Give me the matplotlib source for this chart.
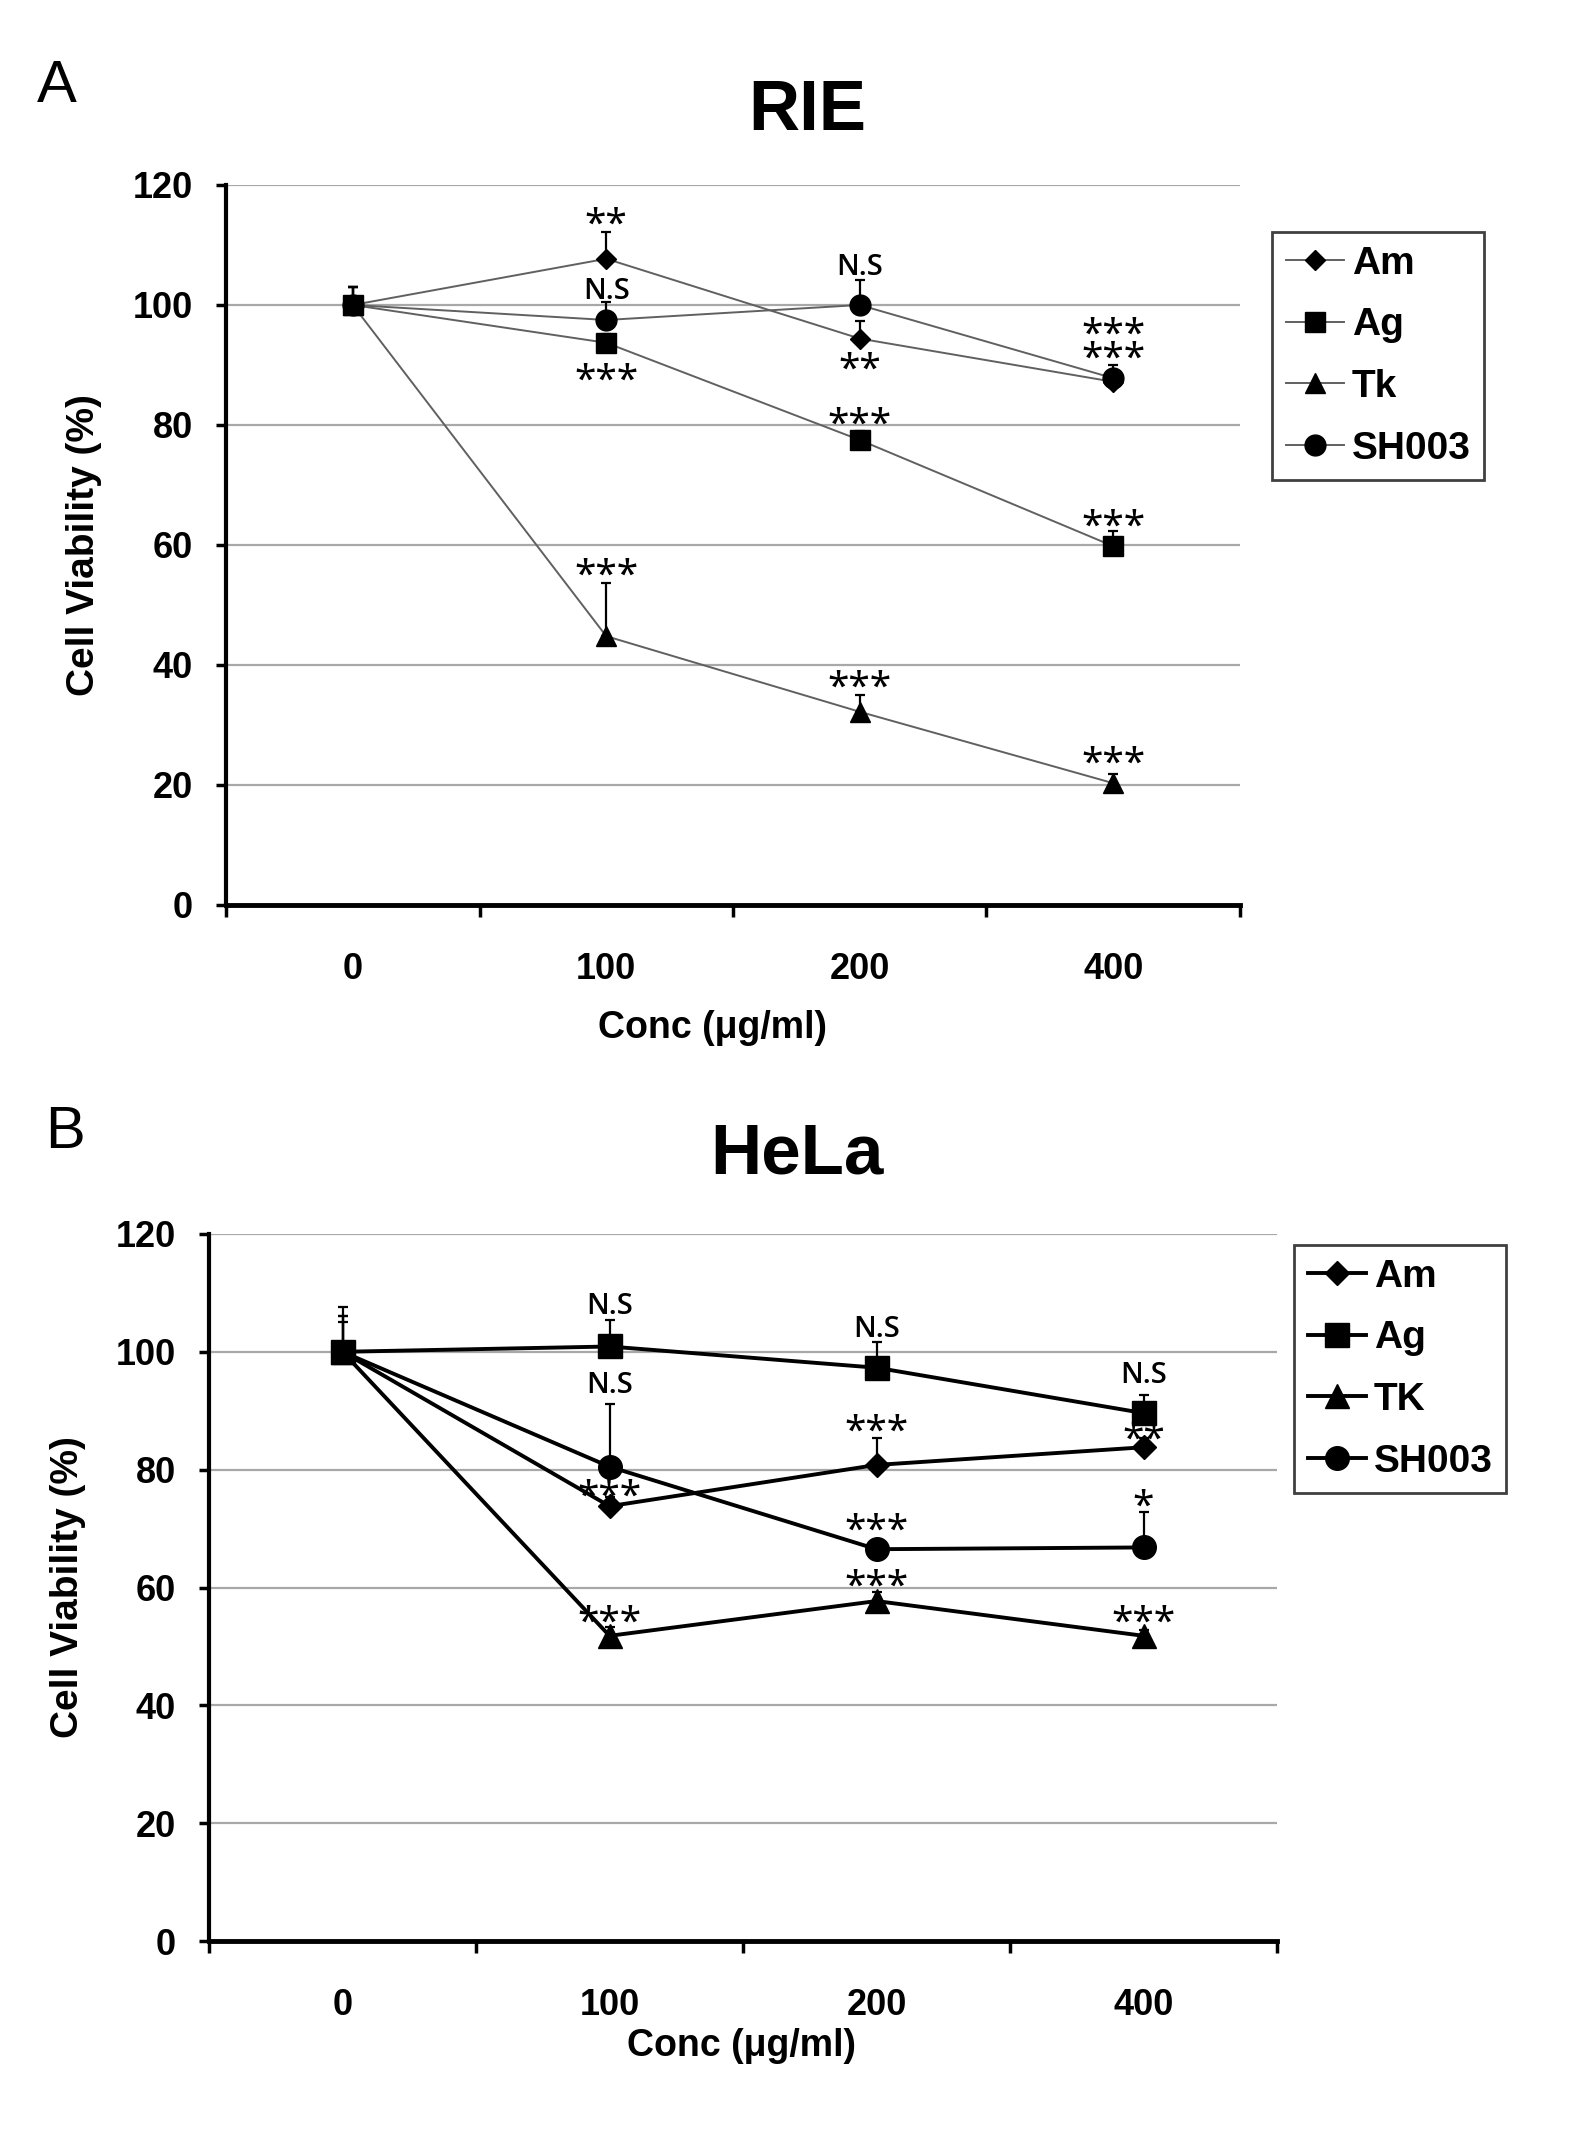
import numpy as np
import matplotlib
matplotlib.use('Agg')
import matplotlib.pyplot as plt

plt.rcParams['font.family'] = ['Liberation Sans', 'DejaVu Sans']

# x categories (concentration, ug/ml)
conc = ['0', '100', '200', '400']
series = ['Am', 'Ag', 'Tk', 'SH003']
series_b = ['Am', 'Ag', 'TK', 'SH003']
markers = {'Am': 'D', 'Ag': 's', 'Tk': '^', 'TK': '^', 'SH003': 'o'}

# panel A : RIE
rie_mean = {
    'Am': [100, 107.7, 94.4, 87.2],
    'Ag': [100, 93.7, 77.5, 59.8],
    'Tk': [100, 44.8, 32.2, 20.3],
    'SH003': [100, 97.5, 100.0, 87.8],
}
rie_err = {
    'Am': [3, 4.5, 3, 1.5],
    'Ag': [3, 1.5, 1.5, 2.5],
    'Tk': [3, 8.8, 2.8, 1.6],
    'SH003': [3, 3, 4.2, 2.2],
}
# (category index, y of text, text)
rie_marks = [
    (1, 115.0, '**'), (1, 102.8, 'N.S'), (1, 88.9, '***'), (1, 56.5, '***'),
    (2, 106.7, 'N.S'), (2, 90.8, '**'), (2, 81.6, '***'), (2, 37.8, '***'),
    (3, 96.7, '***'), (3, 92.6, '***'), (3, 64.6, '***'), (3, 25.1, '***'),
]

# panel B : HeLa
hela_mean = {
    'Am': [100, 73.8, 80.8, 83.8],
    'Ag': [100, 100.9, 97.3, 89.6],
    'TK': [100, 51.8, 57.7, 51.8],
    'SH003': [100, 80.5, 66.5, 66.8],
}
hela_err = {
    'Am': [6, 1.5, 4.5, 1.5],
    'Ag': [7.6, 4.5, 4.3, 3.1],
    'TK': [5, 1.5, 1.5, 1.0],
    'SH003': [6, 10.6, 1.5, 6.0],
}
hela_marks = [
    (1, 108.2, 'N.S'), (1, 94.7, 'N.S'), (1, 77.1, '***'), (1, 55.6, '***'),
    (2, 104.3, 'N.S'), (2, 88.1, '***'), (2, 71.2, '***'), (2, 61.8, '***'),
    (3, 96.4, 'N.S'), (3, 86.7, '**'), (3, 75.4, '*'), (3, 55.6, '***'),
]

yticks = [0, 20, 40, 60, 80, 100, 120]


def draw_panel(ax, names, means, errs, marks, lcolor, lw, msize, dsize):
    x = np.arange(len(conc))
    for name in names:
        ax.errorbar(x, means[name], yerr=[np.zeros(len(conc)), errs[name]],
                    fmt='none', ecolor='black', elinewidth=1.6,
                    capsize=3.6, capthick=1.6, zorder=3)
    for name in names:
        ms = dsize if markers[name] == 'D' else msize
        ax.plot(x, means[name], color=lcolor, lw=lw, marker=markers[name],
                markersize=ms, markerfacecolor='black', markeredgecolor='black',
                label=name, zorder=4)
    for i, yv, txt in marks:
        if txt == 'N.S':
            ax.annotate(txt, xy=(i, yv), xytext=(0, -7.5), textcoords='offset points',
                        ha='center', va='baseline', fontsize=21,
                        family=['Open Sans', 'Noto Sans'], fontweight='semibold',
                        zorder=5)
        else:
            ax.annotate(txt, xy=(i, yv), xytext=(0, -14.8), textcoords='offset points',
                        ha='center', va='baseline', fontsize=28, family='Noto Sans',
                        zorder=5)

    ax.set_xlim(-0.5, 3.5)
    ax.set_ylim(0, 120)
    ax.set_yticks(yticks)
    ax.set_yticklabels([str(v) for v in yticks])
    ax.set_xticks(np.arange(-0.5, 4.0, 1.0))
    ax.set_xticklabels([])
    ax.set_xticks(x, minor=True)
    ax.set_xticklabels(conc, minor=True)
    ax.tick_params(axis='x', which='major', direction='out', length=8.5, width=2.5)
    ax.tick_params(axis='x', which='minor', length=0, pad=34, labelsize=26)
    ax.tick_params(axis='y', direction='out', length=7, width=2.5, pad=17, labelsize=26)
    for lab in ax.get_xticklabels(minor=True) + ax.get_yticklabels():
        lab.set_fontweight('bold')
    ax.spines['top'].set_visible(False)
    ax.spines['right'].set_visible(False)
    ax.spines['left'].set_linewidth(3)
    ax.spines['bottom'].set_linewidth(3.5)
    ax.yaxis.grid(True, color='#a8a8a8', linewidth=1.6)
    ax.set_axisbelow(True)
    ax.set_ylabel('Cell Viability (%)', fontsize=28, fontweight='bold')
    ax.set_xlabel('Conc (\u03bcg/ml)', fontsize=27, fontweight='bold')


def add_legend(ax, anchor):
    leg = ax.legend(loc='upper left', bbox_to_anchor=anchor,
                    bbox_transform=ax.figure.transFigure, fancybox=False,
                    framealpha=1, edgecolor='#404040',
                    prop=dict(weight='bold', size=28),
                    handlelength=1.5, handletextpad=0.2, borderpad=0.35,
                    labelspacing=0.66, borderaxespad=0)
    leg.get_frame().set_linewidth(2)
    return leg


fig = plt.figure(figsize=(15.85, 21.46), dpi=100)

axA = fig.add_axes([0.1426, 0.5783, 0.6397, 0.3355])
draw_panel(axA, series, rie_mean, rie_err, rie_marks, '#606060', 1.4, 15, 10)
axA.yaxis.set_label_coords(-0.122, 0.5)
axA.xaxis.set_label_coords(0.48, -0.146)
add_legend(axA, (0.8025, 0.8919))

axB = fig.add_axes([0.1319, 0.0955, 0.6738, 0.3295])
draw_panel(axB, series_b, hela_mean, hela_err, hela_marks, 'black', 2.8, 17, 12)
axB.yaxis.set_label_coords(-0.115, 0.5)
axB.xaxis.set_label_coords(0.499, -0.123)
add_legend(axB, (0.8164, 0.4199))

fig.text(807 / 1585, 1 - 112 / 2146, 'RIE', fontsize=51, fontweight='bold',
         ha='center', va='center')
fig.text(797 / 1585, 1 - 1155 / 2146, 'HeLa', fontsize=51, fontweight='bold',
         ha='center', va='center')
fig.text(37 / 1585, 1 - 102 / 2146, 'A', fontsize=43, ha='left', va='baseline')
fig.text(45 / 1585, 1 - 1148 / 2146, 'B', fontsize=43, ha='left', va='baseline')

fig.savefig('out.png', dpi=100)
